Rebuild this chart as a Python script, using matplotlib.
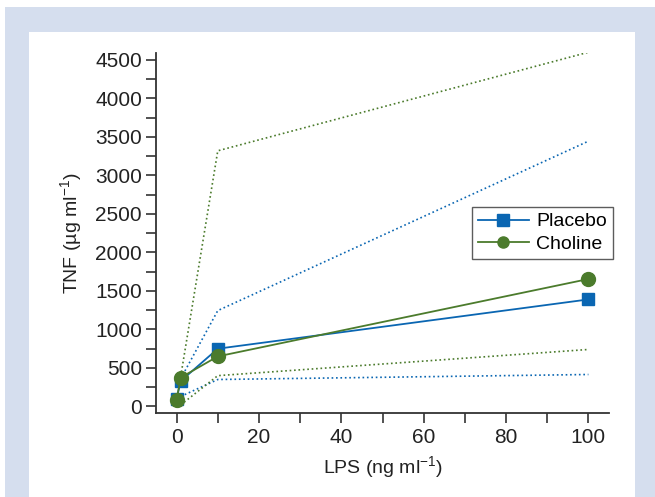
import matplotlib
matplotlib.use("Agg")
import matplotlib.pyplot as plt
from matplotlib.patches import Rectangle
from matplotlib.ticker import MultipleLocator

plt.rcParams['font.family'] = ['Liberation Sans', 'DejaVu Sans']
plt.rcParams['mathtext.fontset'] = 'custom'
plt.rcParams['mathtext.rm'] = 'Liberation Sans'
plt.rcParams['mathtext.it'] = 'Liberation Sans:italic'

# Data
lps = [0, 1, 10, 100]
placebo = [100, 330, 750, 1390]
choline = [85, 375, 650, 1655]

bound_x = [1, 10, 100]
placebo_upper = [360, 1245, 3445]
placebo_lower = [130, 350, 415]
choline_upper = [390, 3320, 4600]
choline_lower = [20, 400, 740]

blue = '#0a66b2'
green = '#4b7b2c'
frame = '#d5deee'
FS = 14
TFS = 15

fig = plt.figure(figsize=(6.55, 4.97), dpi=100)
W, H = 655, 497
def fx(x): return x / W
def fy(y): return 1 - y / H

# frame background
fig.patches.append(Rectangle((fx(5), 0), fx(655) - fx(5), fy(7), transform=fig.transFigure,
                             facecolor=frame, edgecolor='none', zorder=-20))
fig.patches.append(Rectangle((fx(29), 0), fx(635) - fx(29), fy(32), transform=fig.transFigure,
                             facecolor='white', edgecolor='none', zorder=-10))

ax = fig.add_axes([fx(156), fy(413), fx(609) - fx(156), fy(53) - fy(413)])
ax.set_facecolor('none')

ax.plot(bound_x, placebo_upper, ls=':', color=blue, lw=1.2)
ax.plot(bound_x, placebo_lower, ls=':', color=blue, lw=1.2)
ax.plot(bound_x, choline_upper, ls=':', color=green, lw=1.2)
ax.plot(bound_x, choline_lower, ls=':', color=green, lw=1.2)

ax.plot(lps, placebo, '-s', color=blue, lw=1.3, ms=9, label='Placebo')
ax.plot(lps, choline, '-o', color=green, lw=1.3, ms=10, label='Choline')

ax.set_xlim(-5, 105)
ax.set_ylim(-85, 4590)
ax.xaxis.set_major_locator(MultipleLocator(20))
ax.xaxis.set_minor_locator(MultipleLocator(10))
ax.yaxis.set_major_locator(MultipleLocator(500))
ax.yaxis.set_minor_locator(MultipleLocator(250))
ax.set_yticks(range(0, 4501, 500))

for s in ['top', 'right']:
    ax.spines[s].set_visible(False)
for s in ['left', 'bottom']:
    ax.spines[s].set_color('#333333')
    ax.spines[s].set_linewidth(1.3)

ax.tick_params(which='both', direction='out', length=7, width=1.2, color='#333333',
               labelsize=TFS, labelcolor='#222222')
ax.tick_params(axis='x', pad=4)
ax.tick_params(axis='y', pad=3)

ax.set_xlabel('LPS (ng ml$^{-1}$)', fontsize=FS, color='#222222', labelpad=5)
ax.set_ylabel('TNF (µg ml$^{-1}$)', fontsize=FS, color='#222222', labelpad=8)

leg = ax.legend(loc='upper right', bbox_to_anchor=(fx(613), fy(207)),
                bbox_transform=fig.transFigure, fontsize=FS, frameon=True,
                fancybox=False, handlelength=2.6, borderpad=0.3, labelspacing=0.25,
                handletextpad=0.4, borderaxespad=0)
leg.get_frame().set_edgecolor('#333333')
leg.get_frame().set_linewidth(1.0)
for h in leg.get_lines():
    h.set_markersize(8)

fig.savefig('out.png', dpi=100)
